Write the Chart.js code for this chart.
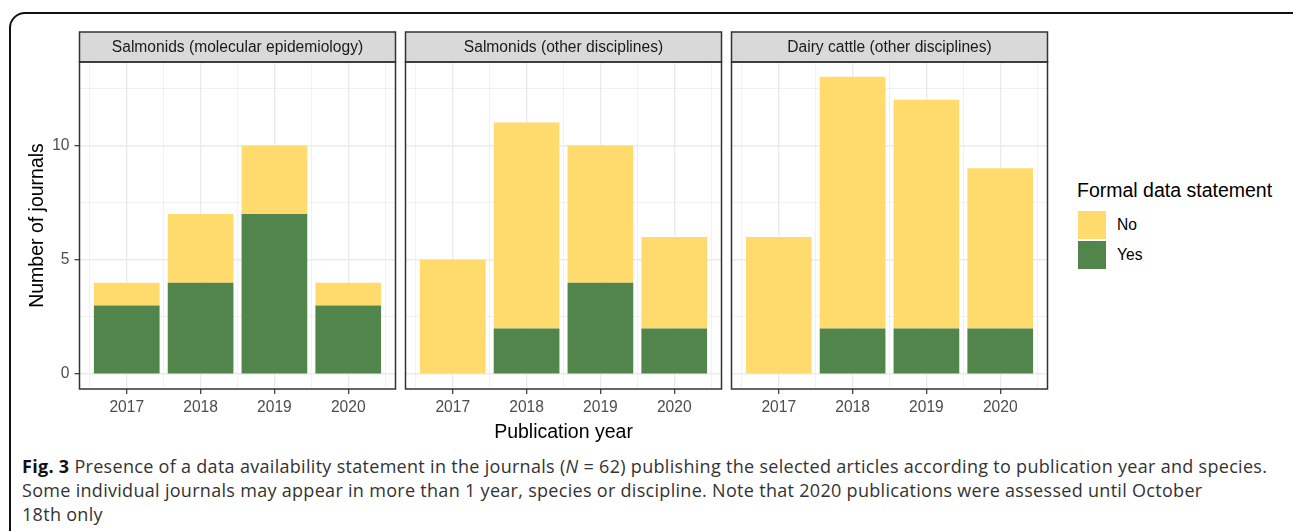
<!DOCTYPE html>
<html>
<head>
<meta charset="utf-8">
<script src="https://cdn.jsdelivr.net/npm/chart.js@4.4.1/dist/chart.umd.min.js"></script>
<style>
  html, body { margin: 0; padding: 0; background: #fff; overflow: hidden; }
  body { width: 1293px; height: 531px; position: relative; font-family: 'Liberation Sans', Arial, sans-serif; }
  .frame { position: absolute; left: 9px; top: 12px; width: 1300px; height: 600px; border: 2px solid #111; border-radius: 16px; box-sizing: border-box; }
  canvas { position: absolute; top: 0; }
  .legend { position: absolute; left: 1077px; top: 178px; color: #000; }
  .legend .ttl { font-size: 19.5px; line-height: 24px; white-space: nowrap; }
  .legend .row { position: relative; height: 30px; margin-top: 0; }
  .legend .key { position: absolute; left: 1px; top: 1px; width: 28px; height: 28px; }
  .legend .lab { position: absolute; left: 40px; top: 5px; font-size: 15.6px; line-height: 20px; }
  .caption { position: absolute; left: 22px; top: 454px; font-family: 'Open Sans', 'Liberation Sans', Arial, sans-serif; font-size: 18px; letter-spacing: 0.3px; line-height: 24px; color: #333; white-space: nowrap; }
  .caption b { color: #111; }
</style>
</head>
<body>
<div class="frame"></div>
<canvas id="p1" width="400" height="450" style="left:0px"></canvas>
<canvas id="p2" width="325" height="450" style="left:400px"></canvas>
<canvas id="p3" width="326" height="450" style="left:726px"></canvas>

<div class="legend">
  <div class="ttl">Formal data statement</div>
  <div class="row" style="margin-top:8px"><div class="key" style="background:#FFDB6D"></div><div class="lab">No</div></div>
  <div class="row"><div class="key" style="background:#52854C"></div><div class="lab">Yes</div></div>
</div>

<div class="caption">
  <b>Fig. 3</b> Presence of a data availability statement in the journals (<i>N</i> = 62) publishing the selected articles according to publication year and species.<br>
  Some individual journals may appear in more than 1 year, species or discipline. Note that 2020 publications were assessed until October<br>
  18th only
</div>

<script>
// data
const years = ['2017', '2018', '2019', '2020'];
const panelTitles = ['Salmonids (molecular epidemiology)', 'Salmonids (other disciplines)', 'Dairy cattle (other disciplines)'];
const yesCounts = [
    [3, 4, 7, 3],
    [0, 2, 4, 2],
    [0, 2, 2, 2]
];
const noCounts = [
    [1, 3, 3, 1],
    [5, 9, 6, 4],
    [6, 11, 10, 7]
];
const yTicks = [0, 2.5, 5, 7.5, 10, 12.5];
const xTicks = [0.5, 1, 1.5, 2, 2.5, 3, 3.5, 4, 4.5];

const yellow = '#FFDB6D';
const green = '#52854C';

Chart.defaults.font.family = "'Liberation Sans', Arial, sans-serif";

const isMajorX = (c) => c.tick && Number.isInteger(c.tick.value);
const isMajorY = (c) => c.tick && c.tick.value % 5 === 0;

// strip on top + dark border round the panel
const facetPlugin = {
    id: 'facet',
    beforeDraw(chart, args, opts) {
        const a = chart.chartArea;
        const ctx = chart.ctx;
        ctx.save();
        ctx.fillStyle = '#d9d9d9';
        ctx.fillRect(a.left, 32, a.right - a.left, a.top - 32);
        ctx.restore();
    },
    afterDraw(chart, args, opts) {
        const a = chart.chartArea;
        const ctx = chart.ctx;
        ctx.save();
        ctx.strokeStyle = '#333';
        ctx.lineWidth = 1.5;
        ctx.strokeRect(a.left, 32, a.right - a.left, a.top - 32);
        ctx.strokeRect(a.left, a.top, a.right - a.left, a.bottom - a.top);
        ctx.fillStyle = '#1a1a1a';
        ctx.font = "15.6px 'Liberation Sans', Arial, sans-serif";
        ctx.textAlign = 'center';
        ctx.textBaseline = 'middle';
        ctx.fillText(opts.title, (a.left + a.right) / 2, (32 + a.top) / 2 + 1);
        ctx.restore();
    }
};

const makePanel = (id, i) => {
    const first = i === 0;
    const pad = [
        { top: 62, left: 0, right: 4.5, bottom: 0 },
        { top: 62, left: 5.5, right: 3.5, bottom: 0 },
        { top: 62, left: 5.5, right: 4.5, bottom: 0 }
    ][i];
    return new Chart(document.getElementById(id), {
        type: 'bar',
        data: {
            datasets: [
                { label: 'Yes', data: yesCounts[i].map((v, k) => ({ x: k + 1, y: v })), backgroundColor: green },
                { label: 'No', data: noCounts[i].map((v, k) => ({ x: k + 1, y: v })), backgroundColor: yellow }
            ]
        },
        options: {
            responsive: false,
            animation: false,
            layout: { padding: pad },
            // the bar ruler also counts the half-step grid ticks, so one category is 2 ruler steps
            categoryPercentage: 2,
            barPercentage: 0.89,
            plugins: {
                legend: { display: false },
                tooltip: { enabled: false },
                facet: { title: panelTitles[i] }
            },
            scales: {
                x: {
                    type: 'linear',
                    stacked: true,
                    offset: false,
                    min: 0.36,
                    max: 4.64,
                    afterBuildTicks: (s) => { s.ticks = xTicks.map(v => ({ value: v })); },
                    afterFit: (s) => { s.height = 61; },
                    border: { display: false },
                    grid: {
                        offset: false,
                        color: '#ebebeb',
                        lineWidth: (c) => isMajorX(c) ? 1.4 : 0.7,
                        tickColor: (c) => isMajorX(c) ? '#333' : 'rgba(0,0,0,0)',
                        tickLength: 5,
                        tickWidth: 1.2
                    },
                    ticks: {
                        autoSkip: false,
                        maxRotation: 0,
                        padding: 4,
                        color: '#4d4d4d',
                        font: { size: 15.6 },
                        callback: (v) => Number.isInteger(v) ? years[v - 1] : ''
                    },
                    title: {
                        display: i === 1,
                        text: 'Publication year',
                        color: '#000',
                        font: { size: 19.5 },
                        padding: { top: 0, bottom: 6 }
                    }
                },
                y: {
                    stacked: true,
                    min: -0.65,
                    max: 13.65,
                    afterBuildTicks: (s) => { s.ticks = yTicks.map(v => ({ value: v })); },
                    afterFit: (s) => { s.width = first ? 79.5 : 0; },
                    border: { display: false },
                    grid: {
                        color: '#ebebeb',
                        lineWidth: (c) => isMajorY(c) ? 1.4 : 0.7,
                        tickColor: (c) => isMajorY(c) ? '#333' : 'rgba(0,0,0,0)',
                        drawTicks: first,
                        tickLength: 5,
                        tickWidth: 1.2
                    },
                    ticks: {
                        display: first,
                        padding: 5,
                        color: '#4d4d4d',
                        font: { size: 15.6 },
                        callback: (v) => v % 5 === 0 ? String(v) : ''
                    },
                    title: {
                        display: first,
                        text: 'Number of journals',
                        color: '#000',
                        font: { size: 19.5 },
                        padding: { top: 26, bottom: 0 }
                    }
                }
            }
        },
        plugins: [facetPlugin]
    });
};

makePanel('p1', 0);
makePanel('p2', 1);
makePanel('p3', 2);
</script>
</body>
</html>
